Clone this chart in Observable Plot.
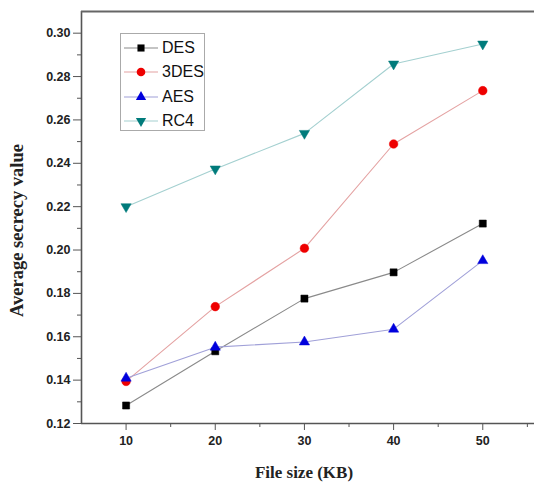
<!DOCTYPE html>
<html>
<head>
<meta charset="utf-8">
<script src="https://cdn.jsdelivr.net/npm/d3@7"></script>
<script src="https://cdn.jsdelivr.net/npm/@observablehq/plot@0.6"></script>
<style>
  body { margin: 0; background: #fff; }
  #wrap { position: relative; width: 534px; height: 489px; }
  #legend { position: absolute; left: 120px; top: 33px; width: 85px; height: 98px; border: 1px solid #aaa; background: #fff; box-sizing: border-box; font-family: "Liberation Sans", Arial, sans-serif; font-size: 16px; color: #111; }
  #legend .row { position: absolute; left: 0; height: 24px; display: flex; align-items: center; }
  #legend svg { display: block; }
</style>
</head>
<body>
<div id="wrap"><div id="legend"></div></div>
<script>
const fileSizes = [10, 20, 30, 40, 50];
const des  = [0.1283, 0.1533, 0.1776, 0.1897, 0.2122];
const tdes = [0.1394, 0.1739, 0.2008, 0.2489, 0.2735];
const aes  = [0.1409, 0.1552, 0.1576, 0.1635, 0.1951];
const rc4  = [0.2200, 0.2374, 0.2538, 0.2858, 0.2950];
const seriesNames = ["DES", "3DES", "AES", "RC4"];
const yTicks = [0.12, 0.14, 0.16, 0.18, 0.20, 0.22, 0.24, 0.26, 0.28, 0.30];
const yMinor = [0.13, 0.15, 0.17, 0.19, 0.21, 0.23, 0.25, 0.27, 0.29];
const xTicks = [10, 20, 30, 40, 50];
const xMinor = [15, 25, 35, 45, 55];

const styles = {
  "DES":  {line: "#8a8a8a", fill: "#000000", symbol: "square",   rotate: 0,   r: 4.0},
  "3DES": {line: "#e4a2a2", fill: "#ee0000", symbol: "circle",   rotate: 0,   r: 4.3},
  "AES":  {line: "#a0a0d8", fill: "#0000dd", symbol: "triangle", rotate: 0,   r: 3.8},
  "RC4":  {line: "#a4d0d0", fill: "#007b7b", symbol: "triangle", rotate: 180, r: 3.8}
};
const values = {"DES": des, "3DES": tdes, "AES": aes, "RC4": rc4};
const data = seriesNames.flatMap(s => fileSizes.map((x, i) => ({series: s, x, y: values[s][i]})));

const marks = [];
for (const s of seriesNames) {
  const d = data.filter(p => p.series === s);
  const st = styles[s];
  marks.push(Plot.line(d, {x: "x", y: "y", stroke: st.line, strokeWidth: 1.1}));
}
for (const s of seriesNames) {
  const d = data.filter(p => p.series === s);
  const st = styles[s];
  marks.push(Plot.dot(d, {x: "x", y: "y", symbol: st.symbol, r: st.r, fill: st.fill, stroke: st.fill, strokeWidth: 0.5, rotate: st.rotate}));
}

const chart = Plot.plot({
  width: 534,
  height: 489,
  marginLeft: 81,
  marginRight: 0,
  marginTop: 11,
  marginBottom: 66,
  style: {background: "#fff"},
  x: {domain: [5, 55.8]},
  y: {domain: [0.12, 0.31]},
  marks: [
    Plot.axisY({ticks: yTicks, tickSize: 8, tickPadding: 3, tickFormat: d3.format(".2f"), fontSize: 12.5, fontWeight: "bold", fontFamily: "Liberation Sans Narrow, Liberation Sans, Arial, sans-serif", stroke: "#555", fill: "#222", label: null}),
    Plot.axisY({ticks: yMinor, tickSize: 4, tickFormat: () => "", stroke: "#555", label: null}),
    Plot.axisX({ticks: xTicks, tickSize: 7, tickPadding: 6, fontSize: 12.5, fontWeight: "bold", fontFamily: "Liberation Sans Narrow, Liberation Sans, Arial, sans-serif", stroke: "#555", fill: "#222", label: null}),
    Plot.axisX({ticks: xMinor, tickSize: 4, tickFormat: () => "", stroke: "#555", label: null}),
    Plot.ruleX([5], {stroke: "#555", strokeWidth: 1.6}),
    Plot.ruleY([0.12], {stroke: "#555", strokeWidth: 1.6}),
    Plot.ruleY([0.31], {stroke: "#666", strokeWidth: 2}),
    ...marks,
    Plot.text(["Average secrecy value"], {frameAnchor: "left", textAnchor: "middle", dx: -64, dy: 13, rotate: -90, fontFamily: "Liberation Serif, Times New Roman, serif", fontWeight: "bold", fontSize: 18.5, fill: "#222"}),
    Plot.text(["File size (KB)"], {frameAnchor: "bottom", dx: -4, dy: 54, fontFamily: "Liberation Serif, Times New Roman, serif", fontWeight: "bold", fontSize: 17, fill: "#222"})
  ]
});
document.getElementById("wrap").prepend(chart);

// legend
const legend = document.getElementById("legend");
seriesNames.forEach((s, i) => {
  const st = styles[s];
  const row = document.createElement("div");
  row.className = "row";
  row.style.top = (2 + i * 24.3) + "px";
  const ns = "http://www.w3.org/2000/svg";
  const svg = document.createElementNS(ns, "svg");
  svg.setAttribute("width", 40); svg.setAttribute("height", 24);
  const ln = document.createElementNS(ns, "line");
  ln.setAttribute("x1", 3); ln.setAttribute("x2", 37); ln.setAttribute("y1", 12); ln.setAttribute("y2", 12);
  ln.setAttribute("stroke", st.line); ln.setAttribute("stroke-width", 1.1);
  svg.appendChild(ln);
  const sym = d3.symbol(st.symbol === "square" ? d3.symbolSquare : st.symbol === "circle" ? d3.symbolCircle : d3.symbolTriangle, Math.PI * st.r * st.r)();
  const p = document.createElementNS(ns, "path");
  p.setAttribute("d", sym);
  p.setAttribute("fill", st.fill);
  p.setAttribute("transform", `translate(20,12) rotate(${st.rotate})`);
  svg.appendChild(p);
  row.appendChild(svg);
  const t = document.createElement("span");
  t.textContent = s;
  t.style.marginLeft = "1px";
  row.appendChild(t);
  legend.appendChild(row);
});
</script>
</body>
</html>
